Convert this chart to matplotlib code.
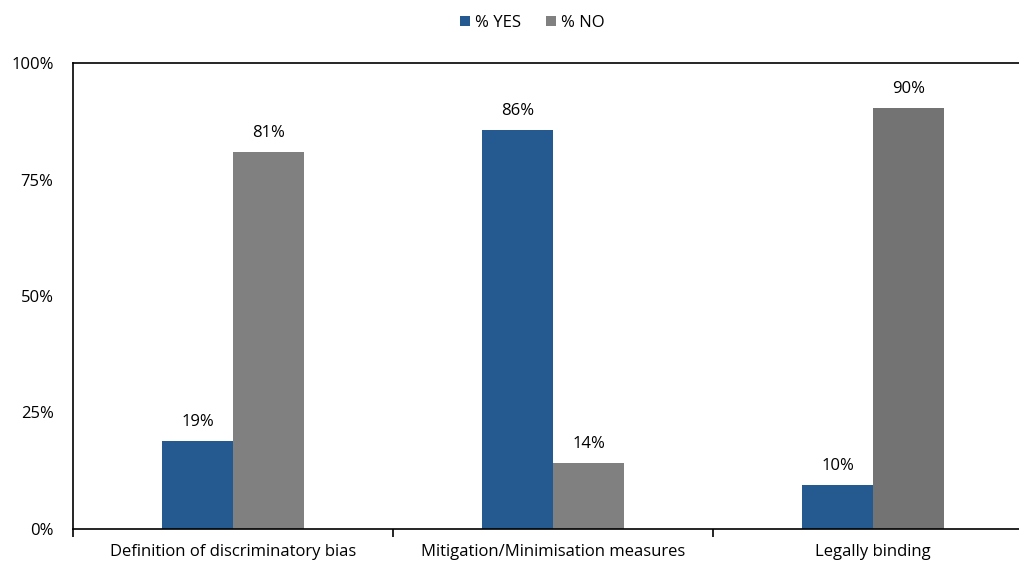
import matplotlib.pyplot as plt
import numpy as np

categories = ["Definition of discriminatory bias", "Mitigation/Minimisation measures", "Legally binding"]
yes_values = [18.9, 85.6, 9.4]
no_values = [80.9, 14.2, 90.3]
yes_labels = ["19%", "86%", "10%"]
no_labels = ["81%", "14%", "90%"]

plt.rcParams['font.family'] = ['Open Sans', 'DejaVu Sans']

blue = "#255a91"
gray = "#808080"
dark_gray = "#737373"

fig = plt.figure(figsize=(10.19, 5.65), dpi=100)
ax = fig.add_axes([73 / 1019, 1 - 529 / 565, (1019 - 73) / 1019, (529 - 63) / 565])

x = np.arange(len(categories))
w = 0.222
yes_bars = ax.bar(x - w / 2, yes_values, w, color=blue, label="% YES")
no_colors = [gray, gray, dark_gray]
no_bars = ax.bar(x + w / 2, no_values, w, color=no_colors, label="% NO")

# value labels above each bar
for bars, labels in [(yes_bars, yes_labels), (no_bars, no_labels)]:
    for b, lab in zip(bars, labels):
        ax.annotate(lab, (b.get_x() + b.get_width() / 2, b.get_height()),
                    xytext=(0, 8), textcoords="offset points",
                    ha="center", va="bottom", fontsize=12)

ax.set_yticks([0, 25, 50, 75, 100])
ax.set_yticklabels(["0%", "25%", "50%", "75%", "100%"], fontsize=12)
ax.tick_params(axis="y", length=0, pad=14)

ax.set_xticks(x)
ax.set_xticklabels(categories, fontsize=12)
ax.tick_params(axis="x", which="major", length=0, pad=11)
ax.set_xticks([-0.5, 0.5, 1.5, 2.5], minor=True)
ax.tick_params(axis="x", which="minor", length=6, width=1.2, direction="out")

ax.set_xlim(-0.5, 2.456)
ax.set_ylim(0, 100)

for s in ["left", "top", "bottom"]:
    ax.spines[s].set_linewidth(1.2)
ax.spines["right"].set_visible(False)

handles = [yes_bars[0], no_bars[0]]
fig.legend(handles, ["% YES", "% NO"], loc="upper center", bbox_to_anchor=(0.522, 1.0),
           ncol=2, frameon=False, fontsize=12, handlelength=0.6, handleheight=0.6,
           handletextpad=0.3, columnspacing=1.5)

fig.savefig("out.png", dpi=100)
